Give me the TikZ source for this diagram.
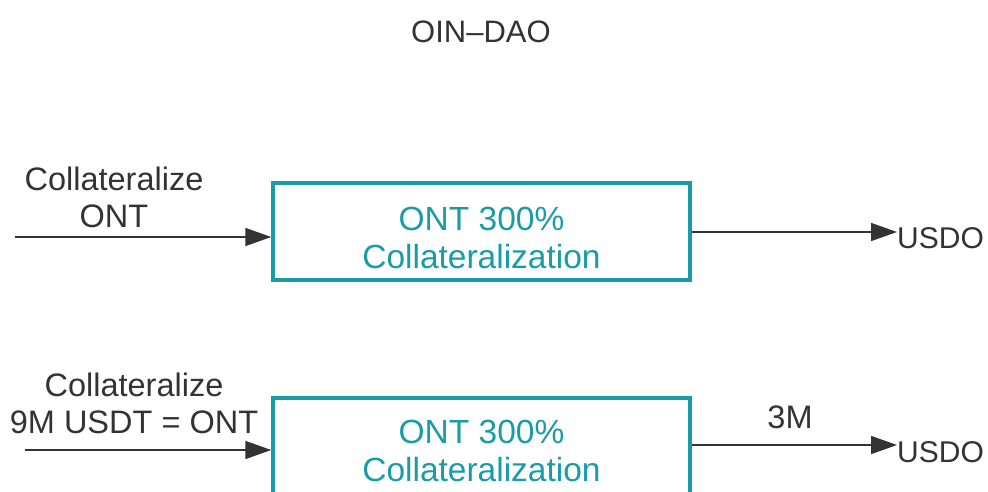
\documentclass[tikz,border=0pt]{standalone}
\usepackage{fontspec}
\setmainfont{Liberation Sans}
\usetikzlibrary{arrows.meta}
\definecolor{teal1}{HTML}{1A9BA8}
\definecolor{txt}{HTML}{333333}
\begin{document}
\begin{tikzpicture}[x=1pt,y=-1pt,
  lbl/.style={text=txt,font=\fontsize{32.5}{37}\selectfont,inner sep=0pt,align=center},
  boxtxt/.style={text=teal1,font=\fontsize{33.5}{38}\selectfont,align=center,inner sep=0pt},
  cbox/.style={draw=teal1,line width=3.5pt,minimum width=417pt,minimum height=97pt,inner sep=0pt},
  arr/.style={draw=txt,line width=1.6pt,-{Triangle[length=26pt,width=18pt]}}]
\path[use as bounding box] (0,0) rectangle (988,491);
\begin{scope}
\clip (0,0) rectangle (988,491);
\node[lbl,font=\fontsize{31}{36}\selectfont] (title) at (481,32) {OIN–DAO};
% row 1
\node[cbox] (b1) at (481.5,231.5) {};
\node[boxtxt] (t1) at (481.5,238) {ONT 300\%\\Collateralization};
\coordinate (s1) at (15,237);
\draw[arr] (s1) -- (b1.west |- s1);
\node[lbl] (l1) at (114,197) {Collateralize\\ONT};
\node[lbl,anchor=west,font=\fontsize{30}{36}\selectfont] (u1) at (897,238) {USDO};
\draw[arr] (b1.east |- 0,232) -- (u1.west |- 0,232);
% row 2
\node[cbox] (b2) at (481.5,446.5) {};
\node[boxtxt] (t2) at (481.5,451) {ONT 300\%\\Collateralization};
\coordinate (s2) at (25,450);
\draw[arr] (s2) -- (b2.west |- s2);
\node[lbl] (l2) at (134,403) {Collateralize\\9M USDT = ONT};
\node[lbl,anchor=west,font=\fontsize{30}{36}\selectfont] (u2) at (897,452) {USDO};
\draw[arr] (b2.east |- 0,445) -- (u2.west |- 0,445);
\node[lbl] (m3) at (790,417) {3M};
\end{scope}
\end{tikzpicture}
\end{document}
